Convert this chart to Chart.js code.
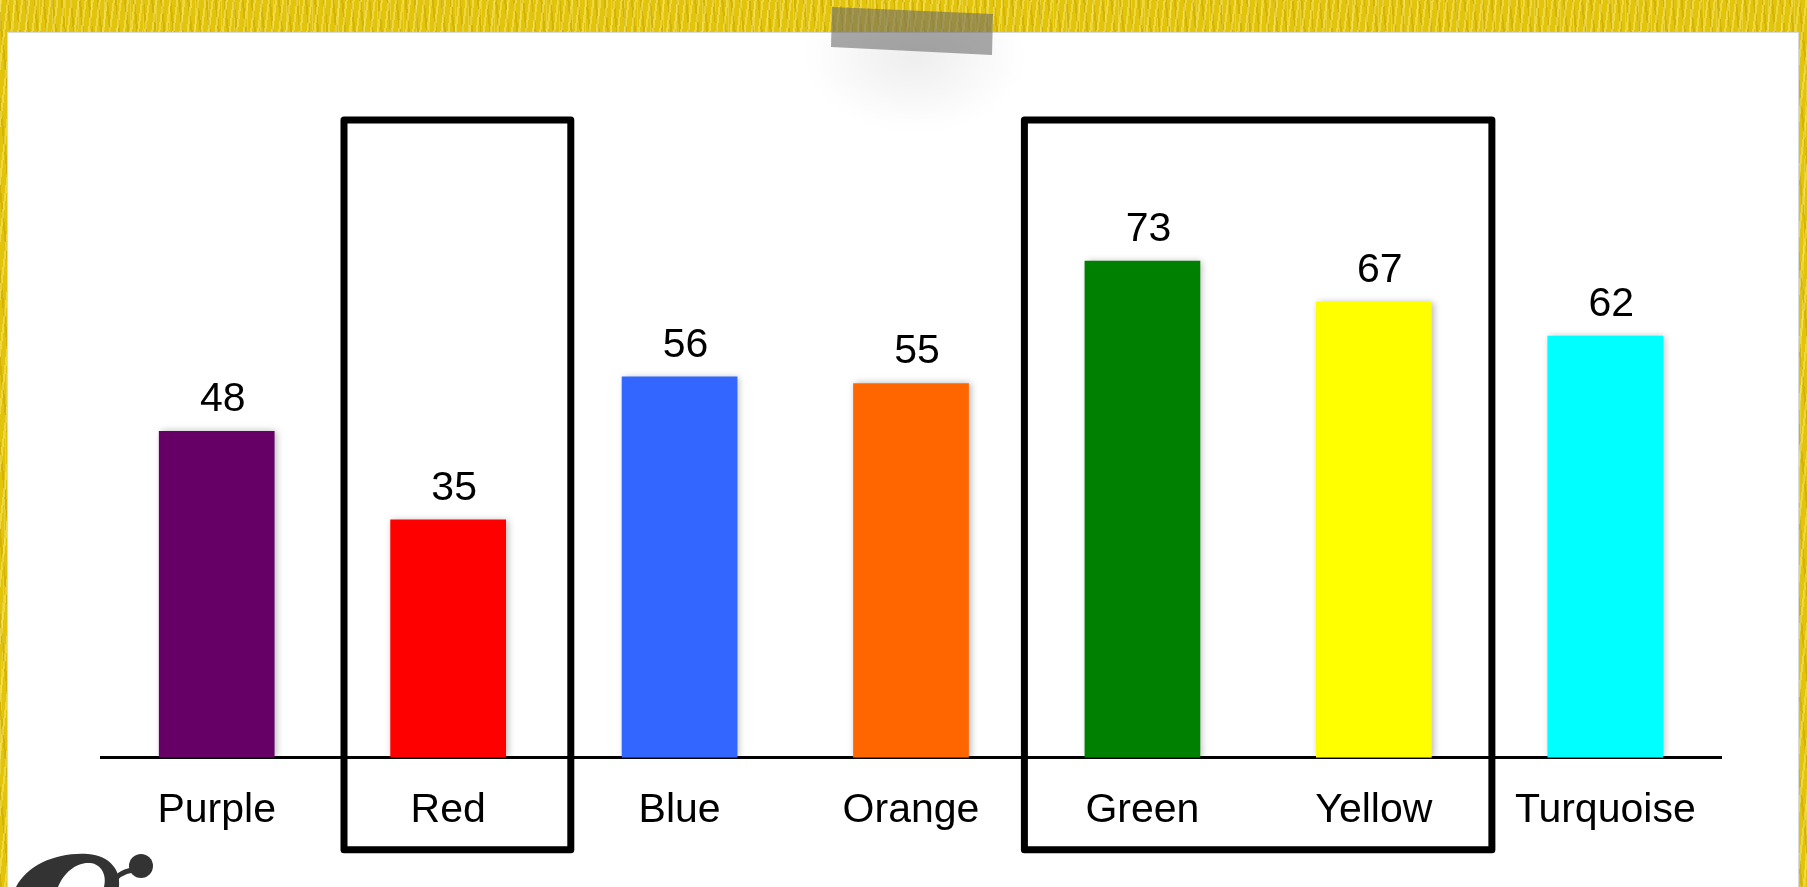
<!DOCTYPE html>
<html>
<head>
<meta charset="utf-8">
<script src="https://cdn.jsdelivr.net/npm/chart.js@4/dist/chart.umd.min.js"></script>
<style>
  html, body { margin: 0; padding: 0; }
  body {
    width: 1807px; height: 887px; overflow: hidden; position: relative;
    background-color: #e3c40c;
    background-image:
      repeating-linear-gradient(97deg, rgba(255,245,140,0.40) 0 2px, transparent 2px 7px),
      repeating-linear-gradient(84deg, rgba(160,120,0,0.22) 0 2px, transparent 2px 9px),
      repeating-linear-gradient(91deg, rgba(255,255,200,0.22) 0 1px, transparent 1px 13px);
  }
  /* feuille blanche */
  #card {
    position: absolute; left: 7px; top: 32px; width: 1792px; height: 870px;
    background: #fff; border: 1px solid #d6dadc; box-sizing: border-box;
  }
  /* ombre douce sous le scotch */
  #tape-shadow {
    position: absolute; left: 805px; top: 30px; width: 220px; height: 100px;
    background: radial-gradient(ellipse at 50% 25%, rgba(0,0,0,0.07), rgba(0,0,0,0) 70%);
    filter: blur(8px);
  }
  #tape { position: absolute; left: 0; top: 0; }
  #logo { position: absolute; left: 0; top: 0; }
  #chart { position: absolute; left: 0; top: 0; }
</style>
</head>
<body>
<div id="card"></div>
<div id="tape-shadow"></div>
<svg id="tape" width="1807" height="80">
  <polygon points="832,7 993,14 992,55 831,47" fill="rgba(105,105,105,0.58)"/>
</svg>
<svg id="logo" width="1807" height="887">
  <path fill-rule="evenodd" fill="#333"
    d="M 16 887 C 28 864, 58 852, 88 854 C 110 856, 121 870, 119 887 Z
       M 58 887 C 64 872, 77 862, 90 863 C 102 864, 107 876, 104 887 Z"/>
  <path d="M 112 884 Q 118 872 133 870" stroke="#333" stroke-width="5" fill="none"/>
  <circle cx="141" cy="866" r="12" fill="#333"/>
</svg>
<canvas id="chart" width="1807" height="887"></canvas>
<script>
// les données du graphique
const labels = ['Purple', 'Red', 'Blue', 'Orange', 'Green', 'Yellow', 'Turquoise'];
const values = [48, 35, 56, 55, 73, 67, 62];
const colors = ['#660066', '#ff0000', '#3366ff', '#ff6600', '#008000', '#ffff00', '#00ffff'];

// cadres noirs autour des catégories mises en avant (en unités d'index / de valeur)
const boxFrom = [0.55, 3.49];
const boxTo = [1.53, 5.51];
const boxTop = 93.7;
const boxBottom = -13.5;

const font = '"Liberation Sans", Arial, sans-serif';

// ombre légère sur les barres
const barShadow = {
  id: 'barShadow',
  beforeDatasetsDraw(chart) {
    const ctx = chart.ctx;
    ctx.save();
    ctx.shadowColor = 'rgba(0,0,0,0.28)';
    ctx.shadowBlur = 7;
    ctx.shadowOffsetX = 2;
    ctx.shadowOffsetY = 0;
  },
  afterDatasetsDraw(chart) {
    chart.ctx.restore();
  }
};

// valeur au dessus de chaque barre
const valueLabels = {
  id: 'valueLabels',
  afterDatasetsDraw(chart) {
    const ctx = chart.ctx;
    const meta = chart.getDatasetMeta(0);
    ctx.save();
    ctx.font = '41px ' + font;
    ctx.fillStyle = '#000';
    ctx.textAlign = 'center';
    ctx.textBaseline = 'alphabetic';
    meta.data.forEach((bar, i) => {
      ctx.fillText(String(chart.data.datasets[0].data[i]), bar.x + 6, bar.y - 20);
    });
    ctx.restore();
  }
};

// les cadres
const boxes = {
  id: 'boxes',
  afterDraw(chart) {
    const ctx = chart.ctx;
    const x = chart.scales.x, y = chart.scales.y;
    ctx.save();
    ctx.strokeStyle = '#000';
    ctx.lineWidth = 7;
    ctx.lineJoin = 'round';
    boxFrom.forEach((f, i) => {
      const left = x.getPixelForValue(f);
      const right = x.getPixelForValue(boxTo[i]);
      const top = y.getPixelForValue(boxTop);
      const bottom = y.getPixelForValue(boxBottom);
      ctx.strokeRect(left, top, right - left, bottom - top);
    });
    ctx.restore();
  }
};

new Chart(document.getElementById('chart'), {
  type: 'bar',
  data: {
    labels: labels,
    datasets: [{
      data: values,
      backgroundColor: colors,
      borderWidth: 0,
      barPercentage: 0.5,
      categoryPercentage: 1.0
    }]
  },
  options: {
    responsive: false,
    animation: false,
    devicePixelRatio: 1,
    layout: { padding: { left: 101, right: 86, top: 77, bottom: 24 } },
    plugins: { legend: { display: false }, tooltip: { enabled: false } },
    scales: {
      x: {
        grid: { display: false, drawTicks: false },
        border: { display: true, color: '#000', width: 3 },
        ticks: { color: '#000', font: { family: font, size: 41 }, padding: 28, maxRotation: 0, autoSkip: false }
      },
      y: {
        display: false,
        min: 0,
        max: 100
      }
    }
  },
  plugins: [barShadow, valueLabels, boxes]
});
</script>
</body>
</html>
